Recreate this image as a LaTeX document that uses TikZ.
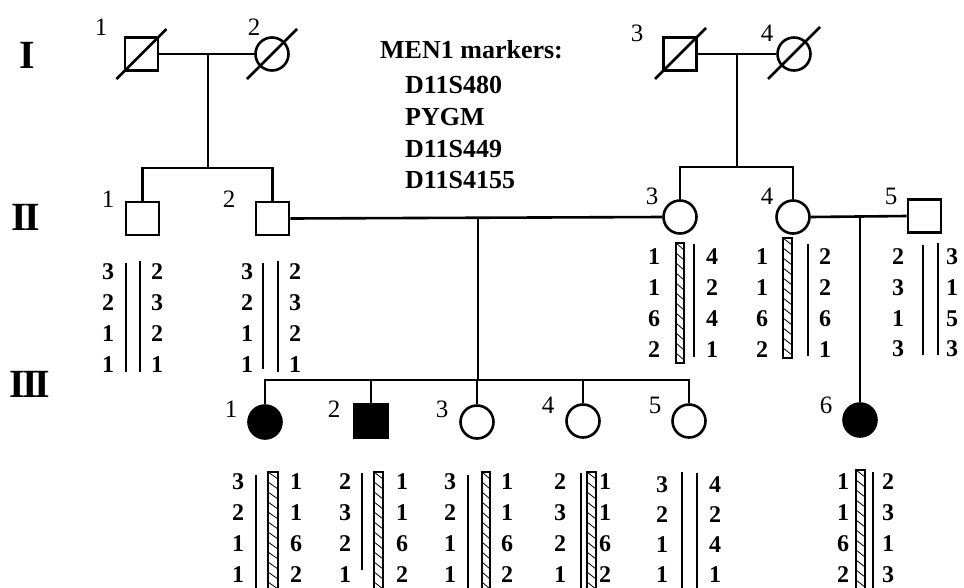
\documentclass[tikz,border=0pt]{standalone}
\usepackage{fontspec}
\setmainfont{Liberation Serif}
\tikzset{
 ln/.style={line width=2.6pt},
 sq/.style={draw, line width=2.6pt, rectangle, minimum size=33pt, inner sep=0pt},
 ci/.style={draw, line width=2.6pt, circle, minimum size=33pt, inner sep=0pt},
 aff/.style={fill=black},
 num/.style={font=\fontsize{25}{25}\selectfont, inner sep=0pt},
 al/.style={font=\fontsize{24}{24}\selectfont\bfseries, inner sep=0pt},
 gen/.style={font=\fontsize{40}{40}\selectfont\bfseries, inner sep=0pt},
 mk/.style={font=\fontsize{26}{26}\selectfont\bfseries, inner sep=0pt, anchor=base west},
 bar/.style={line width=2.6pt},
 hbox/.style={line width=2.2pt},
 hatchln/.style={line width=0.8pt},
}
\newcommand\hatchbar[4]{%
  \draw[hbox] (#1,#3) rectangle (#2,#4);
  \begin{scope}
  \clip (#1,#3) rectangle (#2,#4);
  \foreach \k in {0,...,12} \draw[hatchln] (#1,{#3+\k*10}) -- (#2,{#3+\k*10+7});
  \end{scope}}
\newcommand\alcol[4]{% x, ytop, step, list
  \foreach \v [count=\i] in {#4} \node[al] at (#1,{#2+(\i-1)*#3}) {\v};}
\begin{document}
\begin{tikzpicture}[x=1pt,y=-1pt]
\useasboundingbox (0,0) rectangle (964,587);
\clip (0,0) rectangle (964,587);
% generation labels
\node[gen] (gI) at (27,55) {I};
\node[gen] (gII) at (26,217) {I\kern-3pt I};
\node[gen] (gIII) at (30,384) {I\kern-3pt I\kern-3pt I};
% markers
\node[mk] (mk0) at (380,58) {MEN1 markers:};
\node[mk] (mk1) at (405,93) {D11S480};
\node[mk] (mk2) at (405,125) {PYGM};
\node[mk] (mk3) at (405,157) {D11S449};
\node[mk] (mk4) at (405,188) {D11S4155};
% generation I
\node[sq] (I1) at (141.5,54) {};
\node[ci] (I2) at (272,54) {};
\node[sq] (I3) at (680,54) {};
\node[ci] (I4) at (794,54) {};
\draw[ln] (I1.center) ++(-25,25) -- ++(50,-50);
\draw[ln] (I2.center) ++(-25,25) -- ++(50,-50);
\draw[ln] (I3.center) ++(-25,25) -- ++(51,-51);
\draw[ln] (I4.center) ++(-26,25) -- ++(52,-52);
\node[num] (nI1) at (101,27) {1};
\node[num] (nI2) at (254,27) {2};
\node[num] (nI3) at (637,33) {3};
\node[num] (nI4) at (767,33) {4};
% generation II
\node[sq] (II1) at (142.5,218.5) {};
\node[sq] (II2) at (272.5,218.5) {};
\node[ci] (II3) at (680,217) {};
\node[ci] (II4) at (793,217) {};
\node[sq] (II5) at (924.5,216) {};
\node[num] (nII1) at (108,199) {1};
\node[num] (nII2) at (229,199) {2};
\node[num] (nII3) at (652,196) {3};
\node[num] (nII4) at (767,196) {4};
\node[num] (nII5) at (891,196) {5};
% generation III
\node[ci,aff] (III1) at (265,422) {};
\node[sq,aff] (III2) at (371,421) {};
\node[ci] (III3) at (477,422) {};
\node[ci] (III4) at (583,421) {};
\node[ci] (III5) at (689,421) {};
\node[ci,aff] (III6) at (860,420) {};
\node[num] (nIII1) at (231,409) {1};
\node[num] (nIII2) at (334,409) {2};
\node[num] (nIII3) at (442,409) {3};
\node[num] (nIII4) at (548,405) {4};
\node[num] (nIII5) at (655,405) {5};
\node[num] (nIII6) at (826,405) {6};
% connectors I-1 x I-2
\draw[ln] (I1.east) -- (I2.west);
\coordinate (m1) at (208,54);
\coordinate (s1) at (208,168);
\draw[ln] (m1) -- (s1);
\draw[ln] (II1.north) -- (II1.north |- s1) -- (II2.north |- s1) -- (II2.north);
% I-3 x I-4
\draw[ln] (I3.east) -- (I4.west);
\coordinate (m2) at (737,54);
\coordinate (s2) at (737,167);
\draw[ln] (m2) -- (s2);
\draw[ln] (II3.north) -- (II3.north |- s2) -- (II4.north |- s2) -- (II4.north);
% II-2 x II-3
\draw[ln] (II2.east) -- (II3.west);
\coordinate (m3) at (478,217.5);
\coordinate (s3) at (478,380);
\draw[ln] (m3) -- (s3);
\draw[ln] (III1.north) -- (III1.north |- s3) -- (III5.north |- s3) -- (III5.north);
\draw[ln] (III2.north) -- (III2.north |- s3);
\draw[ln] (III3.north) -- (III3.north |- s3);
\draw[ln] (III4.north) -- (III4.north |- s3);
% II-4 x II-5
\draw[ln] (II4.east) -- (II5.west);
\coordinate (m4) at (860,216.5);
\draw[ln] (m4) -- (III6.north);
% haplotypes generation II
\alcol{108}{272}{31}{3,2,1,1} \alcol{157}{272}{31}{2,3,2,1}
\draw[bar] (126,263) -- (126,372); \draw[bar] (140,261) -- (140,372);
\alcol{247}{272}{31}{3,2,1,1} \alcol{295}{272}{31}{2,3,2,1}
\draw[bar] (263,263) -- (263,369); \draw[bar] (278,261) -- (278,372);
\alcol{654}{257}{30.7}{1,1,6,2} \alcol{712}{257}{30.7}{4,2,4,1}
\hatchbar{676}{684}{243}{363}
\draw[bar] (694,244) -- (694,357);
\alcol{762}{257}{30.7}{1,1,6,2} \alcol{825}{257}{30.7}{2,2,6,1}
\hatchbar{783}{792}{238}{358}
\draw[bar] (808,244) -- (808,356);
\alcol{898}{257}{30.7}{2,3,1,3} \alcol{952}{257}{30.7}{3,1,5,3}
\draw[bar] (923,245) -- (923,355); \draw[bar] (938,243) -- (938,355);
% haplotypes generation III
\alcol{238}{482}{30.8}{3,2,1,1} \alcol{296}{482}{30.8}{1,1,6,2}
\draw[bar] (256,475) -- (256,592);
\hatchbar{268}{278}{472}{592}
\alcol{345}{482}{30.8}{2,3,2,1} \alcol{402}{482}{30.8}{1,1,6,2}
\draw[bar] (362,473) -- (362,570);
\hatchbar{374}{383}{472}{592}
\alcol{450}{482}{30.8}{3,2,1,1} \alcol{507}{482}{30.8}{1,1,6,2}
\draw[bar] (468,475) -- (468,592);
\hatchbar{482}{490}{472}{592}
\alcol{560}{482}{30.8}{2,3,2,1} \alcol{605}{482}{30.8}{1,1,6,2}
\draw[bar] (581,473) -- (581,592);
\hatchbar{587}{596}{472}{592}
\alcol{662}{485}{29.8}{3,2,1,1} \alcol{715}{485}{29.8}{4,2,4,1}
\draw[bar] (682,472) -- (682,592); \draw[bar] (697,473) -- (697,592);
\alcol{843}{482}{30.8}{1,1,6,2} \alcol{888}{482}{30.8}{2,3,1,3}
\hatchbar{856}{865}{470}{592}
\draw[bar] (873,472) -- (873,592);
\end{tikzpicture}
\end{document}
